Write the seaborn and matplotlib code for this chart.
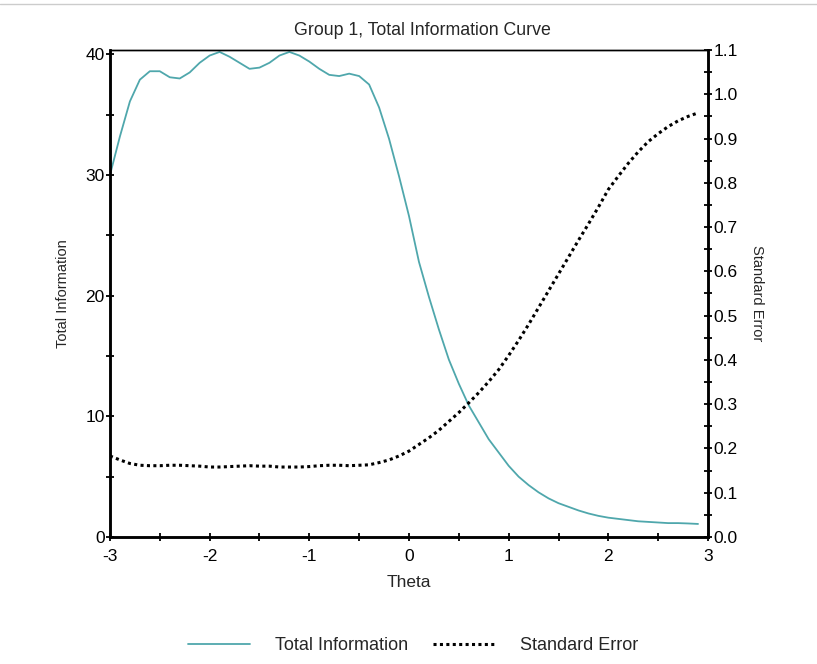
import matplotlib
matplotlib.use("Agg")
import matplotlib.pyplot as plt
import matplotlib.lines as mlines
from matplotlib.ticker import MultipleLocator
import numpy as np
import pandas as pd
import seaborn as sns

# theta grid and the two curves
theta = [-3.0, -2.9, -2.8, -2.7, -2.6, -2.5, -2.4, -2.3, -2.2, -2.1,
         -2.0, -1.9, -1.8, -1.7, -1.6, -1.5, -1.4, -1.3, -1.2, -1.1,
         -1.0, -0.9, -0.8, -0.7, -0.6, -0.5, -0.4, -0.3, -0.2, -0.1,
         0.0, 0.1, 0.2, 0.3, 0.4, 0.5, 0.6, 0.7, 0.8, 0.9,
         1.0, 1.1, 1.2, 1.3, 1.4, 1.5, 1.6, 1.7, 1.8, 1.9,
         2.0, 2.1, 2.2, 2.3, 2.4, 2.5, 2.6, 2.7, 2.8, 2.9]
total_info = [30.0, 33.2, 36.1, 37.9, 38.6, 38.6, 38.1, 38.0, 38.5, 39.3,
              39.9, 40.2, 39.8, 39.3, 38.8, 38.9, 39.3, 39.9, 40.2, 39.9,
              39.4, 38.8, 38.3, 38.2, 38.4, 38.2, 37.5, 35.6, 33.0, 29.9,
              26.6, 22.8, 19.9, 17.2, 14.7, 12.7, 10.9, 9.5, 8.1, 7.0,
              5.9, 5.0, 4.3, 3.7, 3.2, 2.8, 2.5, 2.2, 1.95, 1.75,
              1.6, 1.5, 1.4, 1.3, 1.25, 1.2, 1.15, 1.15, 1.12, 1.08]
std_error = [0.183, 0.174, 0.166, 0.162, 0.161, 0.161, 0.162, 0.162, 0.161, 0.160,
             0.158, 0.158, 0.159, 0.160, 0.161, 0.160, 0.160, 0.158, 0.158, 0.158,
             0.159, 0.161, 0.162, 0.162, 0.161, 0.162, 0.163, 0.168, 0.174, 0.183,
             0.194, 0.209, 0.224, 0.241, 0.261, 0.281, 0.303, 0.326, 0.351, 0.378,
             0.410, 0.444, 0.480, 0.518, 0.556, 0.594, 0.632, 0.670, 0.707, 0.745,
             0.785, 0.815, 0.844, 0.870, 0.893, 0.911, 0.927, 0.940, 0.950, 0.958]

df = pd.DataFrame({"theta": theta, "info": total_info, "se": std_error})

sns.set_style("ticks")
plt.rcParams['font.family'] = ['Liberation Sans', 'DejaVu Sans']

teal = "#4fa7ac"
dots = (0, (1, 1.1))

fig = plt.figure(figsize=(8.17, 6.64), dpi=100)
ax = fig.add_axes([0.1346, 0.1913, 0.7320, 0.7334])
ax2 = ax.twinx()

sns.lineplot(data=df, x="theta", y="info", ax=ax, color=teal, linewidth=1.3)
sns.lineplot(data=df, x="theta", y="se", ax=ax2, color="black",
             linewidth=2.2, linestyle=dots)

ax.set_xlim(-3, 3)
ax.set_ylim(0, 40.36)
ax2.set_ylim(0, 1.1)

ax.xaxis.set_major_locator(MultipleLocator(1))
ax.xaxis.set_minor_locator(MultipleLocator(0.5))
ax.yaxis.set_major_locator(MultipleLocator(10))
ax.yaxis.set_minor_locator(MultipleLocator(5))
ax2.set_yticks(np.round(np.arange(0, 1.11, 0.1), 1))
ax2.set_yticklabels([f"{v:.1f}" for v in np.arange(0, 1.11, 0.1)])
ax2.yaxis.set_minor_locator(MultipleLocator(0.05))
ax.xaxis.set_major_formatter(plt.FuncFormatter(lambda v, p: f"{int(round(v))}"))

for a in (ax, ax2):
    a.tick_params(which="both", direction="inout", width=1.3, colors="black",
                  labelsize=12.5, pad=1, length=5.5)
    for s in ("left", "right", "bottom"):
        a.spines[s].set_linewidth(1.8)
        a.spines[s].set_color("black")
    a.spines["top"].set_linewidth(1.0)
    a.spines["top"].set_color("black")
    a.spines["top"].set_visible(True)
    a.spines["right"].set_visible(True)

ax.tick_params(axis="y", which="both", right=False)
ax.tick_params(axis="x", which="both", pad=6)

ax.set_xlabel("Theta", fontsize=12.5, labelpad=8)
ax.set_ylabel("Total Information", fontsize=10.5, labelpad=11)
ax2.set_ylabel("Standard Error", fontsize=10.5, rotation=270, labelpad=19)
ax.set_title("Group 1, Total Information Curve", fontsize=12.8, pad=11)
ax.title.set_x(0.523)

h1 = mlines.Line2D([], [], color=teal, linewidth=1.3)
h2 = mlines.Line2D([], [], color="black", linewidth=2.2, linestyle=dots)
fig.legend([h1, h2], ["Total Information", "Standard Error"], loc="lower center",
           bbox_to_anchor=(0.506, -0.01), ncol=2, frameon=False, fontsize=13,
           handlelength=3.4, handletextpad=1.4, columnspacing=1.4)

fig.add_artist(mlines.Line2D([0, 1], [0.994, 0.994], color="#cccccc",
                             linewidth=1.0, transform=fig.transFigure))

fig.savefig("out.png", dpi=100)
